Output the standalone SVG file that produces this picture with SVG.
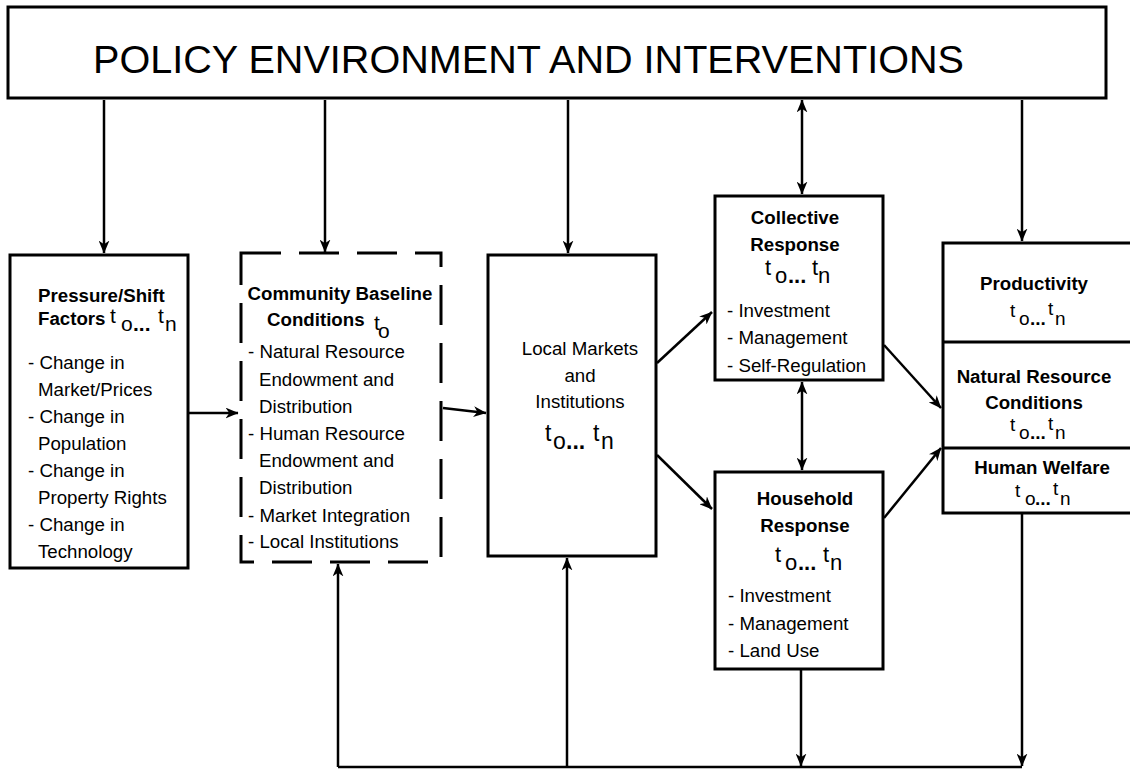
<svg xmlns="http://www.w3.org/2000/svg" width="1130" height="770" viewBox="0 0 1130 770">
<style>
text{font-family:"Liberation Sans",Arial,sans-serif;fill:#000;font-size:18.7px}
.b{font-weight:bold}
.m{text-anchor:middle}
.ttl{font-size:39.6px}
.t{font-size:21px}
.ts{font-size:19px}
.box{fill:#fff;stroke:#000;stroke-width:3}
.dash{fill:#fff;stroke:#000;stroke-width:3;stroke-dasharray:40 18}
.c{fill:none;stroke:#000;stroke-width:2.5}
</style>
<defs>
<marker id="ah" viewBox="0 0 12 10" refX="11.5" refY="5" markerWidth="13" markerHeight="11" markerUnits="userSpaceOnUse" orient="auto-start-reverse">
<path d="M0,0 L12,5 L0,10 L3.5,5 z" fill="#000"/>
</marker>
</defs>

<g id="policy">
<rect class="box" x="8" y="7" width="1098" height="91"/>
<text class="ttl" x="93" y="73">POLICY ENVIRONMENT AND INTERVENTIONS</text>
</g>

<g id="pressure">
<rect class="box" x="10" y="255" width="178" height="313"/>
<text class="b" x="38" y="302">Pressure/Shift</text>
<text class="b" x="38" y="325">Factors</text>
<text class="t"><tspan x="110" y="323">t</tspan><tspan x="121" y="331">o</tspan><tspan class="b" x="133" y="331">...</tspan><tspan x="158" y="323">t</tspan><tspan x="165" y="331">n</tspan></text>
<text x="28" y="369">- Change in</text>
<text x="38" y="396">Market/Prices</text>
<text x="28" y="423">- Change in</text>
<text x="38" y="450">Population</text>
<text x="28" y="477">- Change in</text>
<text x="38" y="504">Property Rights</text>
<text x="28" y="531">- Change in</text>
<text x="38" y="558">Technology</text>
</g>

<g id="community">
<rect class="dash" x="241" y="253" width="200" height="309"/>
<text class="b m" x="340" y="300">Community Baseline</text>
<text class="b" x="267" y="326">Conditions</text>
<text class="t"><tspan x="374" y="330">t</tspan><tspan x="378" y="338">o</tspan></text>
<text x="248" y="358">- Natural Resource</text>
<text x="259" y="386">Endowment and</text>
<text x="259" y="413">Distribution</text>
<text x="248" y="440">- Human Resource</text>
<text x="259" y="467">Endowment and</text>
<text x="259" y="494">Distribution</text>
<text x="248" y="522">- Market Integration</text>
<text x="248" y="548">- Local Institutions</text>
</g>

<g id="local">
<rect class="box" x="488" y="255" width="168" height="301"/>
<text class="m" x="580" y="355">Local Markets</text>
<text class="m" x="580" y="382">and</text>
<text class="m" x="580" y="408">Institutions</text>
<text class="t" style="font-size:23px"><tspan x="545" y="441">t</tspan><tspan x="553" y="449">o</tspan><tspan class="b" x="566" y="449">...</tspan><tspan x="593" y="441">t</tspan><tspan x="601" y="449">n</tspan></text>
</g>

<g id="collective">
<rect class="box" x="715" y="196" width="168" height="184"/>
<text class="b m" x="795" y="224">Collective</text>
<text class="b m" x="795" y="251">Response</text>
<text class="t" style="font-size:22px"><tspan x="765" y="275">t</tspan><tspan x="775" y="283">o</tspan><tspan class="b" x="788" y="283">...</tspan><tspan x="812" y="275">t</tspan><tspan x="818" y="283">n</tspan></text>
<text x="727" y="317">- Investment</text>
<text x="727" y="344">- Management</text>
<text x="727" y="372">- Self-Regulation</text>
</g>

<g id="household">
<rect class="box" x="715" y="472" width="168" height="197"/>
<text class="b m" x="805" y="505">Household</text>
<text class="b m" x="805" y="532">Response</text>
<text class="t" style="font-size:22px"><tspan x="775" y="562">t</tspan><tspan x="785" y="570">o</tspan><tspan class="b" x="798" y="570">...</tspan><tspan x="823" y="562">t</tspan><tspan x="830" y="570">n</tspan></text>
<text x="728" y="602">- Investment</text>
<text x="728" y="630">- Management</text>
<text x="728" y="657">- Land Use</text>
</g>

<g id="outcomes">
<rect class="box" x="943" y="243" width="200" height="270"/>
<line x1="943" y1="342" x2="1132" y2="342" stroke="#000" stroke-width="3"/>
<line x1="943" y1="448" x2="1132" y2="448" stroke="#000" stroke-width="3"/>
<text class="b m" x="1034" y="290">Productivity</text>
<text class="ts"><tspan x="1010" y="317">t</tspan><tspan x="1019" y="325">o</tspan><tspan class="b" x="1030" y="325">...</tspan><tspan x="1048" y="315">t</tspan><tspan x="1055" y="325">n</tspan></text>
<text class="b m" x="1034" y="383">Natural Resource</text>
<text class="b m" x="1034" y="409">Conditions</text>
<text class="ts"><tspan x="1010" y="431">t</tspan><tspan x="1019" y="439">o</tspan><tspan class="b" x="1030" y="439">...</tspan><tspan x="1048" y="430">t</tspan><tspan x="1055" y="439">n</tspan></text>
<text class="b m" x="1042" y="474">Human Welfare</text>
<text class="ts"><tspan x="1015" y="497">t</tspan><tspan x="1025" y="505">o</tspan><tspan class="b" x="1035" y="505">...</tspan><tspan x="1053" y="495">t</tspan><tspan x="1060" y="505">n</tspan></text>
</g>

<g id="connectors">
<line class="c" x1="104" y1="100" x2="104" y2="253" marker-end="url(#ah)"/>
<line class="c" x1="325" y1="100" x2="325" y2="252" marker-end="url(#ah)"/>
<line class="c" x1="568" y1="100" x2="568" y2="253" marker-end="url(#ah)"/>
<line class="c" x1="802" y1="100" x2="802" y2="194" marker-start="url(#ah)" marker-end="url(#ah)"/>
<line class="c" x1="1022" y1="100" x2="1022" y2="241" marker-end="url(#ah)"/>
<line class="c" x1="189" y1="413" x2="238" y2="413" marker-end="url(#ah)"/>
<line class="c" x1="443" y1="408" x2="486" y2="413" marker-end="url(#ah)"/>
<line class="c" x1="657" y1="363" x2="712" y2="312" marker-end="url(#ah)"/>
<line class="c" x1="657" y1="455" x2="712" y2="509" marker-end="url(#ah)"/>
<line class="c" x1="802" y1="382" x2="802" y2="470" marker-start="url(#ah)" marker-end="url(#ah)"/>
<line class="c" x1="884" y1="345" x2="941" y2="408" marker-end="url(#ah)"/>
<line class="c" x1="884" y1="518" x2="941" y2="448" marker-end="url(#ah)"/>
<line class="c" x1="338" y1="767" x2="1022" y2="767"/>
<line class="c" x1="338" y1="767" x2="338" y2="564" marker-end="url(#ah)"/>
<line class="c" x1="567" y1="767" x2="567" y2="558" marker-end="url(#ah)"/>
<line class="c" x1="801" y1="670" x2="801" y2="766" marker-end="url(#ah)"/>
<line class="c" x1="1022" y1="514" x2="1022" y2="766" marker-end="url(#ah)"/>
</g>
</svg>
